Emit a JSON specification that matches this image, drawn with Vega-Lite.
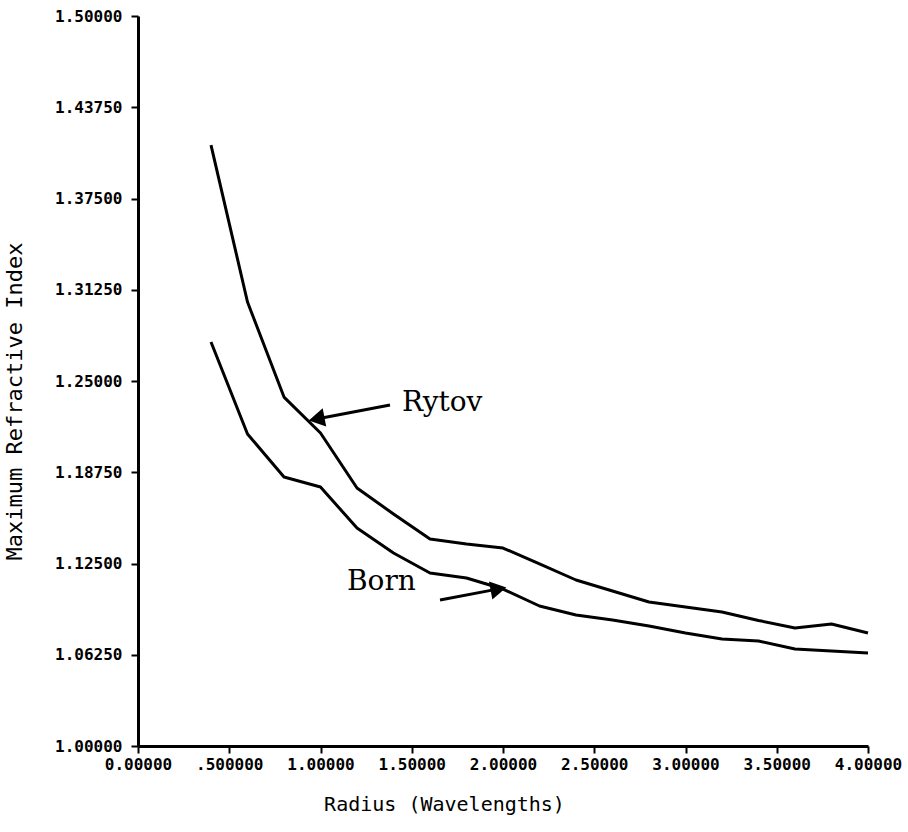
{
  "$schema": "https://vega.github.io/schema/vega-lite/v6.json",
  "autosize": "none",
  "width": 730,
  "height": 730,
  "padding": {"left": 138, "top": 16, "right": 40, "bottom": 86},
  "background": "white",
  "config": {
    "view": {"stroke": null},
    "axis": {
      "domainColor": "black",
      "domainWidth": 3,
      "tickColor": "black",
      "tickWidth": 2,
      "tickSize": 7,
      "grid": false,
      "labelFont": "DejaVu Sans Mono",
      "labelFontWeight": "bold",
      "labelFontSize": 16,
      "labelColor": "black",
      "titleFont": "DejaVu Sans Mono",
      "titleFontWeight": "normal",
      "titleColor": "black"
    }
  },
  "datasets": {
    "curves": [
      {"method": "Rytov", "radius": 0.4, "index": 1.4116},
      {"method": "Rytov", "radius": 0.6, "index": 1.3041},
      {"method": "Rytov", "radius": 0.8, "index": 1.2390},
      {"method": "Rytov", "radius": 1.0, "index": 1.2144},
      {"method": "Rytov", "radius": 1.2, "index": 1.1767},
      {"method": "Rytov", "radius": 1.4, "index": 1.1589},
      {"method": "Rytov", "radius": 1.6, "index": 1.1418},
      {"method": "Rytov", "radius": 1.8, "index": 1.1384},
      {"method": "Rytov", "radius": 2.0, "index": 1.1356},
      {"method": "Rytov", "radius": 2.2, "index": 1.1247},
      {"method": "Rytov", "radius": 2.4, "index": 1.1137},
      {"method": "Rytov", "radius": 2.6, "index": 1.1062},
      {"method": "Rytov", "radius": 2.8, "index": 1.0986},
      {"method": "Rytov", "radius": 3.0, "index": 1.0952},
      {"method": "Rytov", "radius": 3.2, "index": 1.0918},
      {"method": "Rytov", "radius": 3.4, "index": 1.0860},
      {"method": "Rytov", "radius": 3.6, "index": 1.0808},
      {"method": "Rytov", "radius": 3.8, "index": 1.0836},
      {"method": "Rytov", "radius": 4.0, "index": 1.0774},
      {"method": "Born", "radius": 0.4, "index": 1.2767},
      {"method": "Born", "radius": 0.6, "index": 1.2137},
      {"method": "Born", "radius": 0.8, "index": 1.1842},
      {"method": "Born", "radius": 1.0, "index": 1.1774},
      {"method": "Born", "radius": 1.2, "index": 1.1493},
      {"method": "Born", "radius": 1.4, "index": 1.1322},
      {"method": "Born", "radius": 1.6, "index": 1.1185},
      {"method": "Born", "radius": 1.8, "index": 1.1151},
      {"method": "Born", "radius": 2.0, "index": 1.1075},
      {"method": "Born", "radius": 2.2, "index": 1.0959},
      {"method": "Born", "radius": 2.4, "index": 1.0897},
      {"method": "Born", "radius": 2.6, "index": 1.0863},
      {"method": "Born", "radius": 2.8, "index": 1.0822},
      {"method": "Born", "radius": 3.0, "index": 1.0774},
      {"method": "Born", "radius": 3.2, "index": 1.0733},
      {"method": "Born", "radius": 3.4, "index": 1.0719},
      {"method": "Born", "radius": 3.6, "index": 1.0664},
      {"method": "Born", "radius": 3.8, "index": 1.0651},
      {"method": "Born", "radius": 4.0, "index": 1.0637}
    ],
    "labels": [
      {"label": "Rytov", "radius": 1.447, "index": 1.2349},
      {"label": "Born", "radius": 1.145, "index": 1.1123}
    ],
    "arrows": [
      {"label": "Rytov", "radius": 1.381, "index": 1.2336, "radius2": 1.0, "index2": 1.2245},
      {"label": "Born", "radius": 1.655, "index": 1.1000, "radius2": 1.955, "index2": 1.1071}
    ],
    "headRytov": [{"radius": 0.993, "index": 1.2244}],
    "headBorn": [{"radius": 1.961, "index": 1.1072}]
  },
  "layer": [
    {
      "data": {"name": "curves"},
      "mark": {"type": "line", "color": "black", "strokeWidth": 3, "strokeJoin": "round"},
      "encoding": {
        "x": {
          "field": "radius", "type": "quantitative",
          "scale": {"domain": [0, 4], "nice": false, "zero": false},
          "axis": {
            "values": [0, 0.5, 1, 1.5, 2, 2.5, 3, 3.5, 4],
            "labelExpr": "datum.value == 0.5 ? '.500000' : format(datum.value, '.5f')",
            "labelPadding": 3,
            "labelFlush": false,
            "title": "Radius (Wavelengths)",
            "titleFontSize": 20,
            "titlePadding": 22,
            "titleX": 306
          }
        },
        "y": {
          "field": "index", "type": "quantitative",
          "scale": {"domain": [1, 1.5], "nice": false, "zero": false},
          "axis": {
            "values": [1, 1.0625, 1.125, 1.1875, 1.25, 1.3125, 1.375, 1.4375, 1.5],
            "format": ".5f",
            "labelPadding": 9,
            "labelFlush": false,
            "title": "Maximum Refractive Index",
            "titleFontSize": 22,
            "titleX": -124,
            "titleY": 385,
            "titleBaseline": "middle"
          }
        },
        "detail": {"field": "method"},
        "order": {"field": "radius"}
      }
    },
    {
      "data": {"name": "labels"},
      "mark": {"type": "text", "font": "DejaVu Serif", "fontSize": 28, "align": "left", "baseline": "middle", "color": "black"},
      "encoding": {
        "x": {"field": "radius", "type": "quantitative"},
        "y": {"field": "index", "type": "quantitative"},
        "text": {"field": "label"}
      }
    },
    {
      "data": {"name": "arrows"},
      "mark": {"type": "rule", "color": "black", "strokeWidth": 3},
      "encoding": {
        "x": {"field": "radius", "type": "quantitative"},
        "y": {"field": "index", "type": "quantitative"},
        "x2": {"field": "radius2"},
        "y2": {"field": "index2"}
      }
    },
    {
      "data": {"name": "headRytov"},
      "mark": {"type": "point", "shape": "triangle", "filled": true, "color": "black", "size": 340, "angle": 259, "opacity": 1},
      "encoding": {
        "x": {"field": "radius", "type": "quantitative"},
        "y": {"field": "index", "type": "quantitative"}
      }
    },
    {
      "data": {"name": "headBorn"},
      "mark": {"type": "point", "shape": "triangle", "filled": true, "color": "black", "size": 340, "angle": 79.5, "opacity": 1},
      "encoding": {
        "x": {"field": "radius", "type": "quantitative"},
        "y": {"field": "index", "type": "quantitative"}
      }
    }
  ]
}
